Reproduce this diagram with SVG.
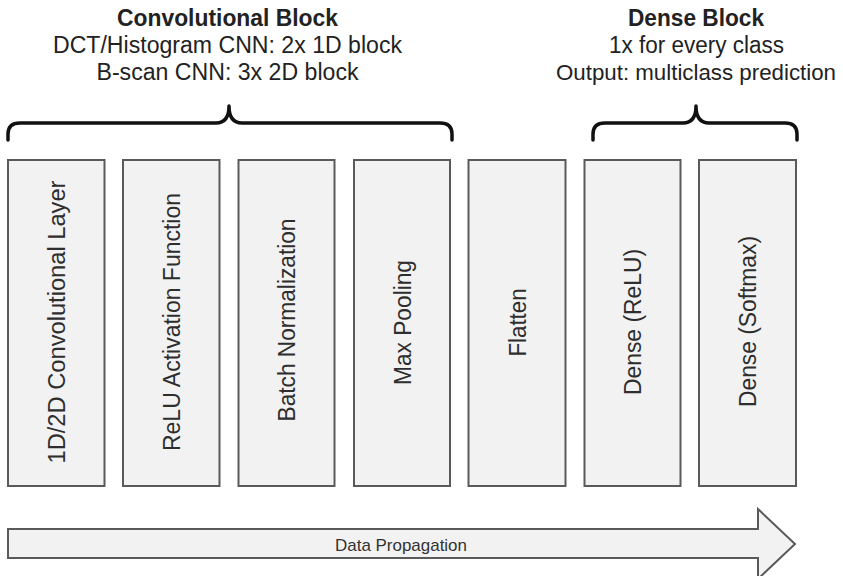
<svg xmlns="http://www.w3.org/2000/svg" width="843" height="576" viewBox="0 0 843 576">
<style>
.box{fill:#f2f2f2;stroke:#5a5a5a;stroke-width:2}
.lbl{font-family:"Liberation Sans",Arial,sans-serif;font-size:23.5px;fill:#2e2e2e;text-anchor:middle}
.ttl{font-family:"Liberation Sans",Arial,sans-serif;font-size:23.5px;fill:#222;text-anchor:middle}
.brace{fill:none;stroke:#111;stroke-width:3.5;stroke-linecap:round;stroke-linejoin:round}
</style>
<rect width="843" height="576" fill="#fff"/>
<g id="conv-title">
<text class="ttl" x="227.5" y="26" font-weight="bold" textLength="221" lengthAdjust="spacingAndGlyphs">Convolutional Block</text>
<text class="ttl" x="227.5" y="53" textLength="349" lengthAdjust="spacingAndGlyphs">DCT/Histogram CNN: 2x 1D block</text>
<text class="ttl" x="227.5" y="80" textLength="262" lengthAdjust="spacingAndGlyphs">B-scan CNN: 3x 2D block</text>
</g>
<g id="dense-title">
<text class="ttl" x="696" y="26" font-weight="bold" textLength="136" lengthAdjust="spacingAndGlyphs">Dense Block</text>
<text class="ttl" x="696.5" y="53" textLength="175" lengthAdjust="spacingAndGlyphs">1x for every class</text>
<text class="ttl" x="696" y="80" style="font-size:22.3px" textLength="280" lengthAdjust="spacingAndGlyphs">Output: multiclass prediction</text>
</g>
<g id="braces">
<path class="brace" d="M8,140 V134 Q8,123 20,123 H216 Q229,123 229,106 Q229,123 242,123 H440 Q452,123 452,134 V140"/>
<path class="brace" d="M593,140 V134 Q593,123 605,123 H683 Q696,123 696,106 Q696,123 709,123 H785 Q797,123 797,134 V140"/>
</g>
<g id="n1"><rect class="box" x="8" y="160" width="96.5" height="326"/><text class="lbl" transform="translate(56,322) rotate(-90)" x="0" y="8.5" textLength="283" lengthAdjust="spacingAndGlyphs">1D/2D Convolutional Layer</text></g>
<g id="n2"><rect class="box" x="123" y="160" width="96.5" height="326"/><text class="lbl" transform="translate(171,322) rotate(-90)" x="0" y="8.5" textLength="258" lengthAdjust="spacingAndGlyphs">ReLU Activation Function</text></g>
<g id="n3"><rect class="box" x="238.5" y="160" width="96" height="326"/><text class="lbl" transform="translate(286.5,320) rotate(-90)" x="0" y="8.5" textLength="203" lengthAdjust="spacingAndGlyphs">Batch Normalization</text></g>
<g id="n4"><rect class="box" x="354" y="160" width="96" height="326"/><text class="lbl" transform="translate(402,322.5) rotate(-90)" x="0" y="8.5" textLength="125" lengthAdjust="spacingAndGlyphs">Max Pooling</text></g>
<g id="n5"><rect class="box" x="468.5" y="160" width="97" height="326"/><text class="lbl" transform="translate(517,322.5) rotate(-90)" x="0" y="8.5" textLength="68" lengthAdjust="spacingAndGlyphs">Flatten</text></g>
<g id="n6"><rect class="box" x="584.5" y="160" width="96" height="326"/><text class="lbl" transform="translate(632.5,322) rotate(-90)" x="0" y="8.5" textLength="146" lengthAdjust="spacingAndGlyphs">Dense (ReLU)</text></g>
<g id="n7"><rect class="box" x="699" y="160" width="97" height="326"/><text class="lbl" transform="translate(747.5,321.5) rotate(-90)" x="0" y="8.5" textLength="171" lengthAdjust="spacingAndGlyphs">Dense (Softmax)</text></g>
<g id="connectors">
<polygon class="box" points="8,529 758,529 758,509 795,544 758,579 758,558 8,558"/>
<text x="401" y="550.5" font-family="'Liberation Sans',Arial,sans-serif" font-size="17" fill="#333" text-anchor="middle" textLength="132" lengthAdjust="spacingAndGlyphs">Data Propagation</text>
</g>
</svg>
